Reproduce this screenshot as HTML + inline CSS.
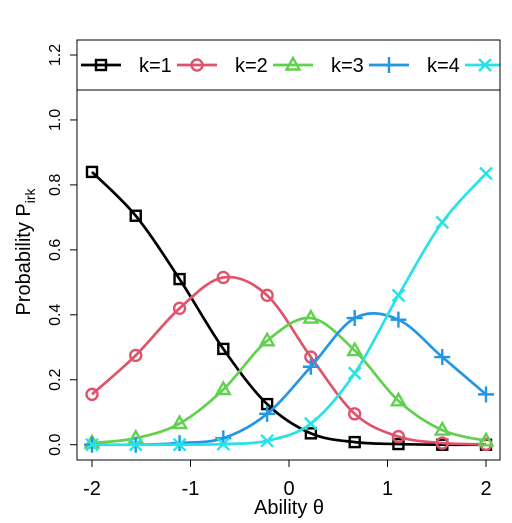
<!DOCTYPE html>
<html><head><meta charset="utf-8"><style>body{margin:0;background:#fff}svg{font-family:"Liberation Sans",sans-serif}</style></head>
<body>
<svg id="c" width="512" height="518" xmlns="http://www.w3.org/2000/svg"></svg>
<script>
const thetas=[-2,-1.556,-1.111,-0.667,-0.222,0.222,0.667,1.111,1.556,2];
const k1=[0.84,0.705,0.51,0.295,0.125,0.035,0.008,0.002,0.0,0.0];
const k2=[0.155,0.275,0.42,0.515,0.46,0.27,0.095,0.025,0.005,0.001];
const k3=[0.005,0.02,0.065,0.17,0.32,0.39,0.29,0.135,0.045,0.012];
const k4=[0.0,0.0,0.005,0.02,0.095,0.24,0.39,0.385,0.27,0.155];
const k5=[0.0,0.0,0.0,0.002,0.012,0.065,0.22,0.46,0.685,0.835];
const xTicks=[-2,-1,0,1,2];
const yTicks=[0,0.2,0.4,0.6,0.8,1.0,1.2];
const yTickLabels=["0.0","0.2","0.4","0.6","0.8","1.0","1.2"];
const legendLabels=["k=1","k=2","k=3","k=4","k=5"];
const series=[k1,k2,k3,k4,k5];
const colors=["#000000","#DF536B","#61D04F","#2297E6","#28E2E5"];
const shapes=["square","circle","triangle","plus","x"];
const NS="http://www.w3.org/2000/svg";
const svg=document.getElementById('c');
const X=v=>92+(v+2)*(486-92)/4;
const Y=v=>444.7-v*(444.7-55)/1.2;
function el(t,a,p){const e=document.createElementNS(NS,t);for(const k in a)e.setAttribute(k,a[k]);(p||svg).appendChild(e);return e;}
const defs=el('defs',{});const cp=el('clipPath',{id:'cl'},defs);el('rect',{x:77,y:40,width:423,height:420},cp);
const plot=el('g',{'clip-path':'url(#cl)'});


function marker(g,shape,x,y,c){
  const s={fill:'none',stroke:c,'stroke-width':2.4};
  if(shape==='square')el('rect',Object.assign({x:x-5,y:y-5,width:10,height:10},s),g);
  else if(shape==='circle')el('circle',Object.assign({cx:x,cy:y,r:5.5},s),g);
  else if(shape==='triangle')el('path',Object.assign({d:`M${x},${y-7}L${x+6.5},${y+4.5}L${x-6.5},${y+4.5}Z`},s),g);
  else if(shape==='plus')el('path',Object.assign({d:`M${x-8},${y}H${x+8}M${x},${y-8}V${y+8}`},s),g);
  else el('path',Object.assign({d:`M${x-6},${y-6}L${x+6},${y+6}M${x+6},${y-6}L${x-6},${y+6}`},s),g);
}
function spline(px){let d=`M${px[0][0]},${px[0][1]}`;for(let i=0;i<px.length-1;i++){const p0=px[Math.max(0,i-1)],p1=px[i],p2=px[i+1],p3=px[Math.min(px.length-1,i+2)];d+=`C${p1[0]+(p2[0]-p0[0])/6},${p1[1]+(p2[1]-p0[1])/6} ${p2[0]-(p3[0]-p1[0])/6},${p2[1]-(p3[1]-p1[1])/6} ${p2[0]},${p2[1]}`;}return d;}
series.forEach((s,i)=>{
  const g=el('g',{},plot);
  
  
  const px=s.map((v,j)=>[X(thetas[j]),Y(v)]);
  el('path',{d:spline(px),fill:'none',stroke:colors[i],'stroke-width':2.7},g);
  px.forEach(p=>marker(g,shapes[i],p[0],p[1],colors[i]));
});
const lg=el('g',{});


el('rect',{x:77,y:40,width:423,height:50,fill:'#fff',stroke:'#000','stroke-width':1},lg);
const lcp=el('clipPath',{id:'lc'},defs);el('rect',{x:77,y:40,width:423,height:50},lcp);
const lgi=el('g',{'clip-path':'url(#lc)'},lg);
legendLabels.forEach((t,i)=>{
  const g=el('g',{},lgi);
  
  
  const x0=81+i*96;
  el('line',{x1:x0,y1:65,x2:x0+40,y2:65,stroke:colors[i],'stroke-width':2.7},g);
  marker(g,shapes[i],x0+20,65,colors[i]);
  const tx=el('text',{x:x0+58,y:72,'font-size':20,fill:'#000'},g);tx.textContent=t;
});
el('rect',{x:77,y:40,width:423,height:420,fill:'none',stroke:'#000','stroke-width':1});
const xa=el('g',{});


el('line',{x1:X(-2),y1:460,x2:X(2),y2:460,stroke:'#000'},xa);
xTicks.forEach(v=>{el('line',{x1:X(v),y1:460,x2:X(v),y2:467,stroke:'#000'},xa);const t=el('text',{x:X(v),y:495,'font-size':20,'text-anchor':'middle'},xa);t.textContent=v;});
const xt=el('text',{x:289,y:514,'font-size':20,'text-anchor':'middle'});xt.textContent='Ability θ';

const ya=el('g',{});


el('line',{x1:77,y1:Y(0),x2:77,y2:Y(1.2),stroke:'#000'},ya);
yTicks.forEach((v,i)=>{el('line',{x1:70,y1:Y(v),x2:77,y2:Y(v),stroke:'#000'},ya);const t=el('text',{x:0,y:0,'font-size':16,'text-anchor':'middle',transform:`translate(60,${Y(v)}) rotate(-90)`},ya);t.textContent=yTickLabels[i];});
const yt=el('text',{x:0,y:0,'font-size':20,'text-anchor':'middle',transform:'translate(30,252) rotate(-90)'});

yt.innerHTML='Probability P<tspan font-size="14" dy="5">irk</tspan>';
</script>
</body></html>
